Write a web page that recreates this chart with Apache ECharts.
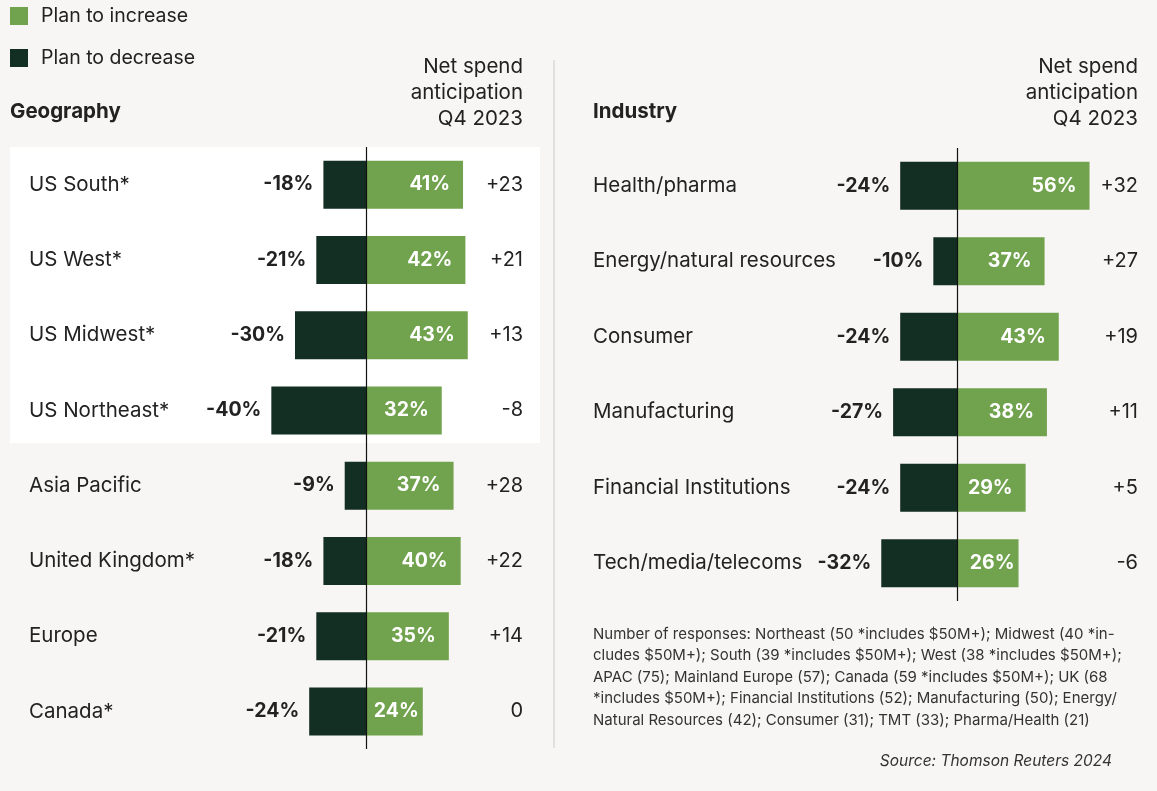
<!DOCTYPE html>
<html>
<head>
<meta charset="utf-8">
<script src="https://cdn.jsdelivr.net/npm/echarts@6/dist/echarts.min.js"></script>
<style>
  html, body { margin: 0; padding: 0; background: #f7f6f4; }
  #chart { width: 1157px; height: 791px; }
</style>
</head>
<body>
<div id="chart"></div>
<script>
// geography panel
const geoCats = ['US South*', 'US West*', 'US Midwest*', 'US Northeast*', 'Asia Pacific', 'United Kingdom*', 'Europe', 'Canada*'];
const geoIncrease = [41, 42, 43, 32, 37, 40, 35, 24];
const geoDecrease = [-18, -21, -30, -40, -9, -18, -21, -24];
const geoNet = ['+23', '+21', '+13', '-8', '+28', '+22', '+14', '0'];

// industry panel
const indCats = ['Health/pharma', 'Energy/natural resources', 'Consumer', 'Manufacturing', 'Financial Institutions', 'Tech/media/telecoms'];
const indIncrease = [56, 37, 43, 38, 29, 26];
const indDecrease = [-24, -10, -24, -27, -24, -32];
const indNet = ['+32', '+27', '+19', '+11', '+5', '-6'];

const GREEN = '#71a24e';
const DARK = '#132e22';
const TEXT = '#222222';
const FONT = 'Inter, "Noto Sans", sans-serif';

const chart = echarts.init(document.getElementById('chart'));

function zeroLine() {
  return {
    silent: true,
    symbol: 'none',
    label: { show: false },
    lineStyle: { color: '#111', width: 1.2, type: 'solid' },
    data: [{ xAxis: 0 }]
  };
}

function seriesFor(idx, inc, dec) {
  return [
    {
      name: 'Plan to decrease', type: 'bar', xAxisIndex: idx, yAxisIndex: idx * 2,
      stack: 's' + idx, barWidth: 48, data: dec,
      itemStyle: { color: DARK },
      label: {
        show: true, position: 'left', distance: 10,
        formatter: p => p.value + '%',
        color: TEXT, fontFamily: FONT, fontWeight: 'bold', fontSize: 19.5
      },
      markLine: zeroLine()
    },
    {
      name: 'Plan to increase', type: 'bar', xAxisIndex: idx, yAxisIndex: idx * 2,
      stack: 's' + idx, barWidth: 48,
      // short bars keep their label clear of the zero line
      data: inc.map(v => (v <= 26 ? { value: v, label: { distance: 4 } } : v)),
      itemStyle: { color: GREEN },
      label: {
        show: true, position: 'insideRight', distance: 13,
        formatter: p => p.value + '%',
        color: '#ffffff', fontFamily: FONT, fontWeight: 'bold', fontSize: 19.5
      }
    }
  ];
}

function catAxis(grid, cats, margin) {
  return {
    type: 'category', gridIndex: grid, data: cats, inverse: true,
    axisLine: { show: false }, axisTick: { show: false },
    axisLabel: { align: 'left', margin: margin, color: TEXT, fontFamily: FONT, fontSize: 20.5, padding: [0, 0, 4, 0] }
  };
}

function netAxis(grid, net, margin, pad) {
  return {
    type: 'category', gridIndex: grid, data: net, inverse: true, position: 'right',
    axisLine: { show: false }, axisTick: { show: false },
    axisLabel: { align: 'right', margin: margin, color: TEXT, fontFamily: FONT, fontSize: 20, padding: [pad, 0, 0, 0] }
  };
}

function valAxis(grid) {
  return {
    type: 'value', gridIndex: grid, min: -60, max: 60,
    show: false, splitLine: { show: false }
  };
}

function header(x, text) {
  return {
    type: 'text', x: x, y: 112, silent: true,
    style: { text: text, fill: TEXT, font: 'bold 20.5px ' + FONT, verticalAlign: 'middle' }
  };
}

function netHeader(x) {
  return ['Net spend', 'anticipation', 'Q4 2023'].map((t, i) => ({
    type: 'text', x: x, y: 67 + i * 26, silent: true,
    style: { text: t, fill: TEXT, font: '20.5px ' + FONT, align: 'right', verticalAlign: 'middle' }
  }));
}

const notes = [
  'Number of responses: Northeast (50 *includes $50M+); Midwest (40 *in-',
  'cludes $50M+); South (39 *includes $50M+); West (38 *includes $50M+);',
  'APAC (75); Mainland Europe (57); Canada (59 *includes $50M+); UK (68',
  '*includes $50M+); Financial Institutions (52); Manufacturing (50); Energy/',
  'Natural Resources (42); Consumer (31); TMT (33); Pharma/Health (21)'
];

chart.setOption({
  backgroundColor: '#f7f6f4',
  animation: false,
  legend: {
    left: 5, top: 1, orient: 'vertical', icon: 'rect',
    itemWidth: 18, itemHeight: 18, itemGap: 22,
    data: ['Plan to increase', 'Plan to decrease'],
    textStyle: { color: TEXT, fontFamily: FONT, fontSize: 19.5, padding: [0, 0, 0, 8] }
  },
  grid: [
    { left: 224, width: 284, top: 147, height: 602 },
    { left: 815, width: 284, top: 148, height: 453 }
  ],
  xAxis: [valAxis(0), valAxis(1)],
  yAxis: [
    catAxis(0, geoCats, 195), netAxis(0, geoNet, 15, 18),
    catAxis(1, indCats, 222), netAxis(1, indNet, 39, 13)
  ],
  series: [...seriesFor(0, geoIncrease, geoDecrease), ...seriesFor(1, indIncrease, indDecrease)],
  graphic: [
    { type: 'rect', z: -10, silent: true, shape: { x: 10, y: 147, width: 530, height: 296 }, style: { fill: '#ffffff' } },
    { type: 'line', silent: true, shape: { x1: 554, y1: 60, x2: 554, y2: 748 }, style: { stroke: '#e2e0dc', lineWidth: 2 } },
    header(10, 'Geography'),
    header(593, 'Industry'),
    ...netHeader(523),
    ...netHeader(1138),
    ...notes.map((t, i) => ({
      type: 'text', x: 593, y: 634 + i * 21.5, silent: true,
      style: { text: t, fill: '#333', font: '15px ' + FONT, verticalAlign: 'middle' }
    })),
    {
      type: 'text', x: 1112, y: 761, silent: true,
      style: { text: 'Source: Thomson Reuters 2024', fill: '#333', font: 'italic 15.5px ' + FONT, align: 'right', verticalAlign: 'middle' }
    }
  ]
});
</script>
</body>
</html>
